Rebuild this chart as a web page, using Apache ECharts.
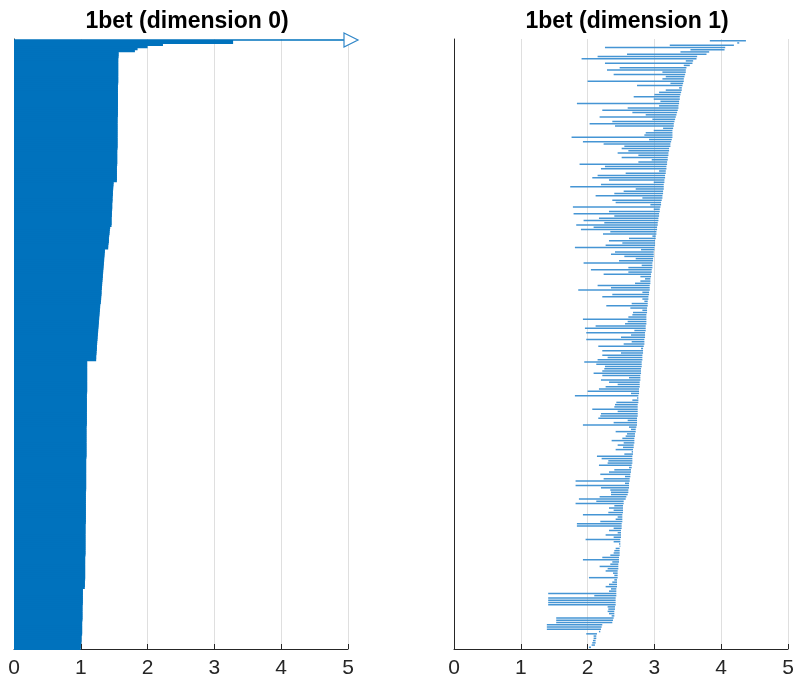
<!DOCTYPE html>
<html>
<head>
<meta charset="utf-8">
<script src="https://cdn.jsdelivr.net/npm/echarts@6/dist/echarts.min.js"></script>
<style>
  html, body { margin: 0; padding: 0; background: #fff; }
  #main { width: 797px; height: 681px; }
</style>
</head>
<body>
<div id="main"></div>
<script>
// dimension 0: every bar is born at 0, top row never dies (drawn to the axis end with an arrow)
var infBirths0 = [0];
var deaths0 = [
  3.28, 2.23, 2.00, 1.85, 1.81,
  1.565,1.565,1.565,1.56,1.56,1.56,1.56,1.56,1.56,1.56,1.56,1.56,1.56,1.56,1.56,1.56,
  1.555,1.555,1.555,1.555,1.555,1.555,1.555,1.555,1.555,1.555,1.555,1.555,1.555,1.555,1.555,1.555,
  1.55,1.55,1.55,1.55,1.55,1.55,1.55,1.55,1.55,1.55,1.55,1.55,1.55,1.55,1.55,1.55,
  1.545,1.545,1.545,1.545,1.545,1.545,1.545,1.545,1.54,1.54,1.54,1.54,1.54,1.54,1.54,1.54,
  1.49,1.49,1.485,1.485,1.48,1.48,1.48,1.475,1.475,1.475,1.47,1.47,1.47,1.47,1.465,1.465,1.465,1.46,1.46,1.46,1.46,1.46,
  1.44,1.435,1.43,1.43,1.425,1.42,1.42,1.42,1.415,1.41,1.41,
  1.36,1.36,1.355,1.355,1.35,1.35,1.345,1.345,1.34,1.34,1.335,1.335,1.33,1.33,1.325,1.325,1.32,1.32,1.315,1.315,1.31,1.31,1.31,1.305,1.305,1.30,1.30,
  1.29,1.29,1.285,1.285,1.28,1.28,1.275,1.275,1.27,1.27,1.265,1.265,1.26,1.26,1.255,1.255,1.25,1.25,1.245,1.245,1.24,1.24,1.24,1.235,1.235,1.23,1.23,1.23,
  1.095,1.095,1.095,1.095,1.095,1.095,1.095,1.095,1.095,1.095,1.095,1.095,1.095,1.095,1.095,1.095,
  1.09,1.09,1.09,1.09,1.09,1.09,1.09,1.09,1.09,1.09,1.09,1.09,1.09,1.09,1.09,1.09,
  1.085,1.085,1.085,1.085,1.085,1.085,1.085,1.085,1.085,1.085,1.085,1.085,1.085,1.085,1.085,1.085,
  1.08,1.08,1.08,1.08,1.08,1.08,1.08,1.08,1.08,1.08,1.08,1.08,1.08,1.08,1.08,1.08,
  1.075,1.075,1.075,1.075,1.075,1.075,1.075,1.075,1.075,1.075,1.075,1.075,1.075,1.075,1.075,1.075,
  1.07,1.07,1.07,1.07,1.07,1.07,1.07,1.07,1.07,1.07,1.07,1.07,1.07,1.07,1.07,1.07,
  1.065,1.065,1.065,1.065,1.065,1.065,1.065,1.065,1.065,1.065,1.065,1.065,1.06,1.06,1.06,1.06,
  1.03,1.03,1.03,1.03,1.03,1.03,1.03,1.03,1.025,1.025,1.025,1.025,1.025,1.025,1.025,1.025,
  1.02,1.02,1.02,1.02,1.02,1.02,1.02,1.01,1.01,1.01,1.01,1.00,1.00,1.00
];

// dimension 1: birth / death of each bar, top to bottom
var births1 = [
  3.83,4.24,3.23,2.26,3.54,3.39,2.59,2.15,1.91,3.47,2.26,3.44,2.48,2.29,3.12,2.39,3.17,3.12,2.00,3.24,
  2.74,3.37,3.17,3.07,3.00,2.69,2.99,3.09,1.84,3.07,2.60,2.22,2.67,2.87,2.18,2.97,2.37,2.03,2.41,3.13,
  2.99,2.87,2.85,1.76,2.92,1.93,2.24,2.55,2.51,2.61,2.45,2.76,2.51,2.96,2.76,1.88,2.26,2.20,3.07,2.57,
  2.15,2.07,2.32,2.99,2.20,1.74,2.72,2.54,
  2.40,2.12,2.82,2.37,2.42,2.94,1.78,2.99,2.32,1.79,2.40,2.17,1.94,2.25,1.83,2.09,1.90,2.34,2.23,2.97,
  2.62,2.32,2.52,2.27,1.81,2.80,2.41,2.35,2.55,2.72,2.47,1.94,2.81,2.61,2.05,2.61,2.24,2.79,2.86,2.79,
  2.71,2.15,2.35,1.86,2.82,2.37,2.22,2.82,2.85,2.66,2.28,2.64,2.82,2.68,2.67,2.61,1.93,2.60,2.56,2.12,
  1.96,2.70,1.98,2.65,2.50,1.98,2.66,2.54,
  2.16,2.80,2.22,2.50,2.22,2.30,2.15,1.95,2.13,2.26,2.25,2.22,2.09,2.22,2.62,2.20,2.32,2.45,2.27,2.17,
  2.00,2.65,1.81,2.74,2.67,2.43,2.41,2.40,2.07,2.45,2.20,2.19,2.16,2.60,2.39,1.93,2.62,2.65,2.42,2.59,
  2.57,2.52,2.36,2.54,2.45,2.53,2.42,2.66,2.55,2.14,2.21,2.31,2.30,2.17,2.62,2.40,2.32,2.19,2.56,2.24,
  1.82,2.56,1.82,2.20,2.34,2.35,2.35,2.18,1.87,
  2.13,1.82,2.40,2.32,2.39,2.31,1.93,2.45,2.42,2.19,1.84,1.84,2.39,2.32,2.45,2.27,2.39,1.97,2.39,2.47,
  2.48,2.42,2.40,2.39,2.34,2.22,1.93,2.37,2.34,2.18,2.30,2.27,2.38,2.40,2.02,2.40,2.37,2.32,2.27,2.35,
  2.32,1.41,2.10,1.41,1.41,1.41,1.41,2.30,2.31,2.30,2.32,2.36,1.53,1.53,1.53,1.39,1.39,1.39,2.17,1.98,
  2.09,2.09,2.08,2.07,2.06,2.02
];
var deaths1 = [
  4.37,4.27,4.19,4.06,4.05,3.82,3.78,3.64,3.63,3.58,3.57,3.53,3.48,3.47,3.47,3.46,3.45,3.44,3.44,3.43,
  3.42,3.41,3.41,3.40,3.39,3.38,3.38,3.37,3.37,3.36,3.36,3.35,3.34,3.33,3.32,3.31,3.30,3.29,3.29,3.28,
  3.27,3.27,3.27,3.27,3.26,3.25,3.24,3.24,3.22,3.22,3.21,3.21,3.20,3.20,3.19,3.19,3.18,3.18,3.17,3.17,
  3.16,3.16,3.15,3.15,3.14,3.14,3.14,3.13,
  3.13,3.12,3.12,3.11,3.10,3.10,3.09,3.08,3.08,3.07,3.07,3.06,3.06,3.05,3.05,3.04,3.04,3.03,3.03,3.02,
  3.02,3.01,3.01,3.01,3.00,3.00,2.99,2.99,2.99,2.98,2.98,2.97,2.97,2.97,2.96,2.96,2.95,2.95,2.94,2.94,
  2.94,2.93,2.93,2.93,2.92,2.92,2.91,2.91,2.90,2.90,2.90,2.89,2.89,2.89,2.88,2.88,2.88,2.88,2.88,2.87,
  2.87,2.87,2.86,2.86,2.86,2.85,2.85,2.85,
  2.84,2.83,2.83,2.83,2.82,2.82,2.82,2.81,2.81,2.81,2.80,2.80,2.80,2.79,2.79,2.79,2.78,2.78,2.78,2.77,
  2.77,2.77,2.76,2.76,2.76,2.76,2.75,2.75,2.75,2.75,2.75,2.75,2.74,2.74,2.74,2.74,2.73,2.72,2.72,2.71,
  2.71,2.70,2.70,2.70,2.69,2.69,2.68,2.68,2.68,2.67,2.67,2.67,2.67,2.66,2.66,2.65,2.65,2.64,2.64,2.63,
  2.63,2.62,2.62,2.62,2.61,2.61,2.60,2.58,2.57,
  2.54,2.54,2.53,2.53,2.53,2.53,2.52,2.52,2.52,2.52,2.51,2.51,2.51,2.50,2.50,2.50,2.50,2.49,2.49,2.49,
  2.49,2.48,2.48,2.48,2.48,2.47,2.47,2.47,2.46,2.46,2.46,2.45,2.45,2.45,2.45,2.44,2.44,2.44,2.44,2.43,
  2.43,2.43,2.43,2.42,2.42,2.42,2.42,2.41,2.41,2.40,2.40,2.40,2.39,2.38,2.37,2.22,2.21,2.20,2.19,2.14,
  2.13,2.13,2.12,2.12,2.11,2.05
];

var axisMax = 5;
var tickLabels = ['0', '1', '2', '3', '4', '5'];
var titles = ['1bet (dimension 0)', '1bet (dimension 1)'];

var barBlue = '#0072BD';
var axisGray = '#262626';

var rows0 = deaths0.length + infBirths0.length;
var rows1 = births1.length;

var data0 = deaths0.map(function (d, i) {
  return [i + infBirths0.length, 0, d];
});
var dataInf = infBirths0.map(function (b, i) {
  return [i, b, axisMax];
});
var data1 = births1.map(function (b, i) {
  return [i, b, deaths1[i]];
});

function xAxisFor(idx) {
  return {
    gridIndex: idx,
    type: 'value',
    position: 'bottom',
    min: 0,
    max: axisMax,
    interval: 1,
    axisLine: { show: true, onZero: false, lineStyle: { color: axisGray, width: 1 } },
    axisTick: { show: true, inside: true, length: 5, lineStyle: { color: axisGray } },
    axisLabel: {
      fontSize: 21,
      color: axisGray,
      margin: 9,
      fontFamily: 'Liberation Sans',
      formatter: function (v) { return tickLabels[Math.round(v)]; }
    },
    splitLine: { show: true, lineStyle: { color: '#dfdfdf', width: 1 } }
  };
}

function yAxisFor(idx, min, max) {
  return {
    gridIndex: idx,
    type: 'value',
    inverse: true,
    min: min,
    max: max,
    axisLine: { show: true, onZero: false, lineStyle: { color: axisGray, width: 1 } },
    axisTick: { show: false },
    axisLabel: { show: false },
    splitLine: { show: false }
  };
}

var titleStyle = { fontSize: 23, fontWeight: 'bold', color: '#000', fontFamily: 'Liberation Sans' };

var myChart = echarts.init(document.getElementById('main'), null, { renderer: 'canvas' });
myChart.setOption({
  animation: false,
  backgroundColor: '#fff',
  title: [
    { text: titles[0], left: 182, top: 5, textAlign: 'center', textStyle: titleStyle },
    { text: titles[1], left: 622, top: 5, textAlign: 'center', textStyle: titleStyle }
  ],
  grid: [
    { left: 14, top: 39, width: 334, height: 610 },
    { left: 454, top: 39, width: 334, height: 610 }
  ],
  xAxis: [xAxisFor(0), xAxisFor(1)],
  yAxis: [
    yAxisFor(0, -0.5, rows0 - 0.5),
    yAxisFor(1, -0.75, rows1 - 1 + 0.75)
  ],
  series: [
    {
      name: 'dim0',
      type: 'custom',
      xAxisIndex: 0,
      yAxisIndex: 0,
      data: data0,
      renderItem: function (params, api) {
        var r = api.value(0);
        var p0 = api.coord([api.value(1), r]);
        var p1 = api.coord([api.value(2), r]);
        var h = api.size([0, 1])[1];
        return {
          type: 'rect',
          shape: { x: p0[0], y: p0[1] - h / 2 - 1, width: p1[0] - p0[0], height: h + 2 },
          style: { fill: barBlue }
        };
      }
    },
    {
      name: 'dim0 infinite',
      type: 'custom',
      xAxisIndex: 0,
      yAxisIndex: 0,
      data: dataInf,
      z: 3,
      renderItem: function (params, api) {
        var r = api.value(0);
        var p0 = api.coord([api.value(1), r]);
        var p1 = api.coord([api.value(2), r]);
        var y = p1[1];
        return {
          type: 'group',
          children: [
            {
              type: 'line',
              shape: { x1: p0[0], y1: y, x2: p1[0] - 4, y2: y },
              style: { stroke: barBlue, lineWidth: 1.5 }
            },
            {
              type: 'polygon',
              shape: { points: [[p1[0] - 4, y - 7], [p1[0] + 10, y], [p1[0] - 4, y + 7]] },
              style: { fill: '#fff', stroke: '#2f86c8', lineWidth: 1.2 }
            }
          ]
        };
      }
    },
    {
      name: 'dim1',
      type: 'custom',
      xAxisIndex: 1,
      yAxisIndex: 1,
      data: data1,
      renderItem: function (params, api) {
        var r = api.value(0);
        var p0 = api.coord([api.value(1), r]);
        var p1 = api.coord([api.value(2), r]);
        return {
          type: 'line',
          shape: { x1: p0[0], y1: p0[1], x2: p1[0], y2: p1[1] },
          style: { stroke: '#3b8fd2', lineWidth: 1.5, opacity: 0.95 }
        };
      }
    }
  ]
});
</script>
</body>
</html>
